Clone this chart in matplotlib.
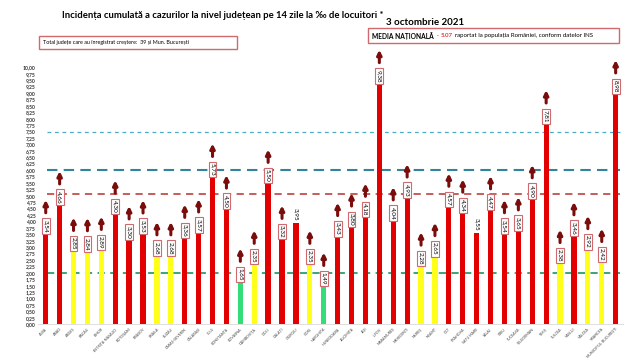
import matplotlib
matplotlib.use('Agg')
import matplotlib.pyplot as plt
import matplotlib.patches as mpatches

plt.rcParams['font.family'] = ['Lato', 'DejaVu Sans']

counties = ['ALBA', 'ARAD', 'ARGEȘ', 'BACĂU', 'BIHOR', 'BISTRIȚA-NĂSĂUD', 'BOTOȘANI',
            'BRAȘOV', 'BRĂILA', 'BUZĂU', 'CARAȘ-SEVERIN', 'CĂLĂRAȘI', 'CLUJ', 'CONSTANȚA',
            'COVASNA', 'DÂMBOVIȚA', 'DOLJ', 'GALAȚI', 'GIURGIU', 'GORJ', 'HARGHITA',
            'HUNEDOARA', 'IALOMIȚA', 'IAȘI', 'ILFOV', 'MARAMUREȘ', 'MEHEDINȚI', 'MUREȘ',
            'NEAMȚ', 'OLT', 'PRAHOVA', 'SATU MARE', 'SĂLAJ', 'SIBIU', 'SUCEAVA',
            'TELEORMAN', 'TIMIȘ', 'TULCEA', 'VASLUI', 'VÂLCEA', 'VRANCEA',
            'MUNICIPIUL BUCUREȘTI']
values = [3.54, 4.66, 2.85, 2.84, 2.89, 4.30, 3.30, 3.53, 2.68, 2.68, 3.36, 3.57, 5.73,
          4.50, 1.65, 2.35, 5.50, 3.32, 3.95, 2.35, 1.49, 3.43, 3.80, 4.18, 9.38, 4.04,
          4.93, 2.28, 2.65, 4.57, 4.34, 3.55, 4.47, 3.54, 3.65, 4.90, 7.81, 2.38, 3.46,
          2.92, 2.42, 8.98]
# r = red, y = yellow, g = green
levels = ['r', 'r', 'y', 'y', 'y', 'r', 'r', 'r', 'y', 'y', 'r', 'r', 'r', 'r', 'g', 'y',
          'r', 'r', 'r', 'y', 'g', 'r', 'r', 'r', 'r', 'r', 'r', 'y', 'y', 'r', 'r', 'r',
          'r', 'r', 'r', 'r', 'r', 'y', 'r', 'y', 'y', 'r']
# counties with an increase get a boxed label and an up arrow
increase = [c not in ('GIURGIU', 'SATU MARE') for c in counties]

ref_lines = [2.00, 5.07, 6.00, 7.50]
national_avg = 5.07
yticks = [i * 0.25 for i in range(41)]

level_colors = {'r': '#e30000', 'y': '#ffff1a', 'g': '#33dd77'}
arrow_color = '#7a0c0c'


def fmt(v):
    return f'{v:.2f}'.replace('.', ',')


fig = plt.figure(figsize=(6.4, 3.59), dpi=100)
ax = fig.add_axes([0.0595, 0.0967, 0.9144, 0.7159])

x = list(range(len(values)))
ax.bar(x, values, width=0.38, color=[level_colors[l] for l in levels], zorder=2)

# reference lines
ax.axhline(ref_lines[0], xmin=0.015, xmax=0.995, color='#2e9e6a', ls=(0, (4, 3)), lw=1.3, zorder=1)
ax.axhline(ref_lines[1], xmin=0.015, xmax=0.995, color='#c0504d', ls=(0, (4, 3)), lw=1.3, zorder=1)
ax.axhline(ref_lines[2], xmin=0.015, xmax=0.995, color='#31849b', ls=(0, (5, 3)), lw=1.5, zorder=1)
ax.axhline(ref_lines[3], xmin=0.015, xmax=0.995, color='#4bacc6', ls=(0, (3, 3)), lw=0.9, zorder=1)

# value labels + arrows
for i, v in enumerate(values):
    if increase[i]:
        ax.text(i, v + 0.04, fmt(v), rotation=270, ha='center', va='bottom', fontsize=4.6,
                zorder=4, bbox=dict(boxstyle='square,pad=0.22', fc='white', ec='#d06a6e', lw=0.8))
        ax.annotate('', xy=(i, v + 1.3), xytext=(i, v + 0.8),
                    arrowprops=dict(arrowstyle='-|>', color=arrow_color, lw=2.2,
                                    mutation_scale=6.5, shrinkA=0, shrinkB=0),
                    annotation_clip=False, zorder=4)
    else:
        ax.text(i, v + 0.08, fmt(v), rotation=270, ha='center', va='bottom', fontsize=4.6, zorder=4)

ax.set_xlim(-0.55, len(values) - 0.45)
ax.set_ylim(0, 10)
ax.set_yticks(yticks)
ax.set_yticklabels([fmt(t) for t in yticks], fontsize=3.6, fontweight='bold', color='#333333')
ax.set_xticks(x)
ax.set_xticklabels(counties, rotation=45, ha='right', fontsize=2.6, color='#444444',
                   rotation_mode='anchor')
ax.tick_params(axis='both', length=0, pad=2)
for s in ['top', 'right', 'left']:
    ax.spines[s].set_visible(False)
ax.spines['bottom'].set_color('#d9d9d9')
ax.spines['bottom'].set_linewidth(0.6)

# header texts
fig.text(0.097, 0.958, 'Incidența cumulată a cazurilor la nivel județean pe 14 zile la ‰ de locuitori *',
         fontsize=6.8, fontweight='bold', ha='left', va='center')
fig.text(0.603, 0.936, '3 octombrie 2021', fontsize=7, fontweight='bold', ha='left', va='center')

fig.add_artist(mpatches.Rectangle((39 / 640, 1 - 49 / 359), 198 / 640, 13 / 359,
                                  transform=fig.transFigure, fill=False, ec='#d06a6e', lw=1))
fig.text(43 / 640, 1 - 42.5 / 359, 'Total județe care au înregistrat creștere:  39 și Mun. București',
         fontsize=3.9, ha='left', va='center')

fig.add_artist(mpatches.Rectangle((368 / 640, 1 - 43 / 359), 251 / 640, 15 / 359,
                                  transform=fig.transFigure, fill=False, ec='#d06a6e', lw=1))
t1 = fig.text(372 / 640, 1 - 35.5 / 359, 'MEDIA NAȚIONALĂ', fontsize=4.8, fontweight='bold',
              ha='left', va='center')
a2 = ax.annotate(' -', xy=(1, 0.5), xycoords=t1, xytext=(1, 0), textcoords='offset points',
                 fontsize=4.4, color='#c00000', ha='left', va='center', annotation_clip=False)
a3 = ax.annotate(f'{national_avg:.2f}', xy=(1, 0.5), xycoords=a2, xytext=(1.5, 0),
                 textcoords='offset points', fontsize=4.4, fontweight='bold', color='#e04040',
                 ha='left', va='center', annotation_clip=False)
ax.annotate('raportat la populația României, conform datelor INS', xy=(1, 0.5), xycoords=a3,
            xytext=(1.5, 0), textcoords='offset points', fontsize=4.4, ha='left', va='center',
            annotation_clip=False)

fig.savefig('out.png', dpi=100)
plt.close(fig)
